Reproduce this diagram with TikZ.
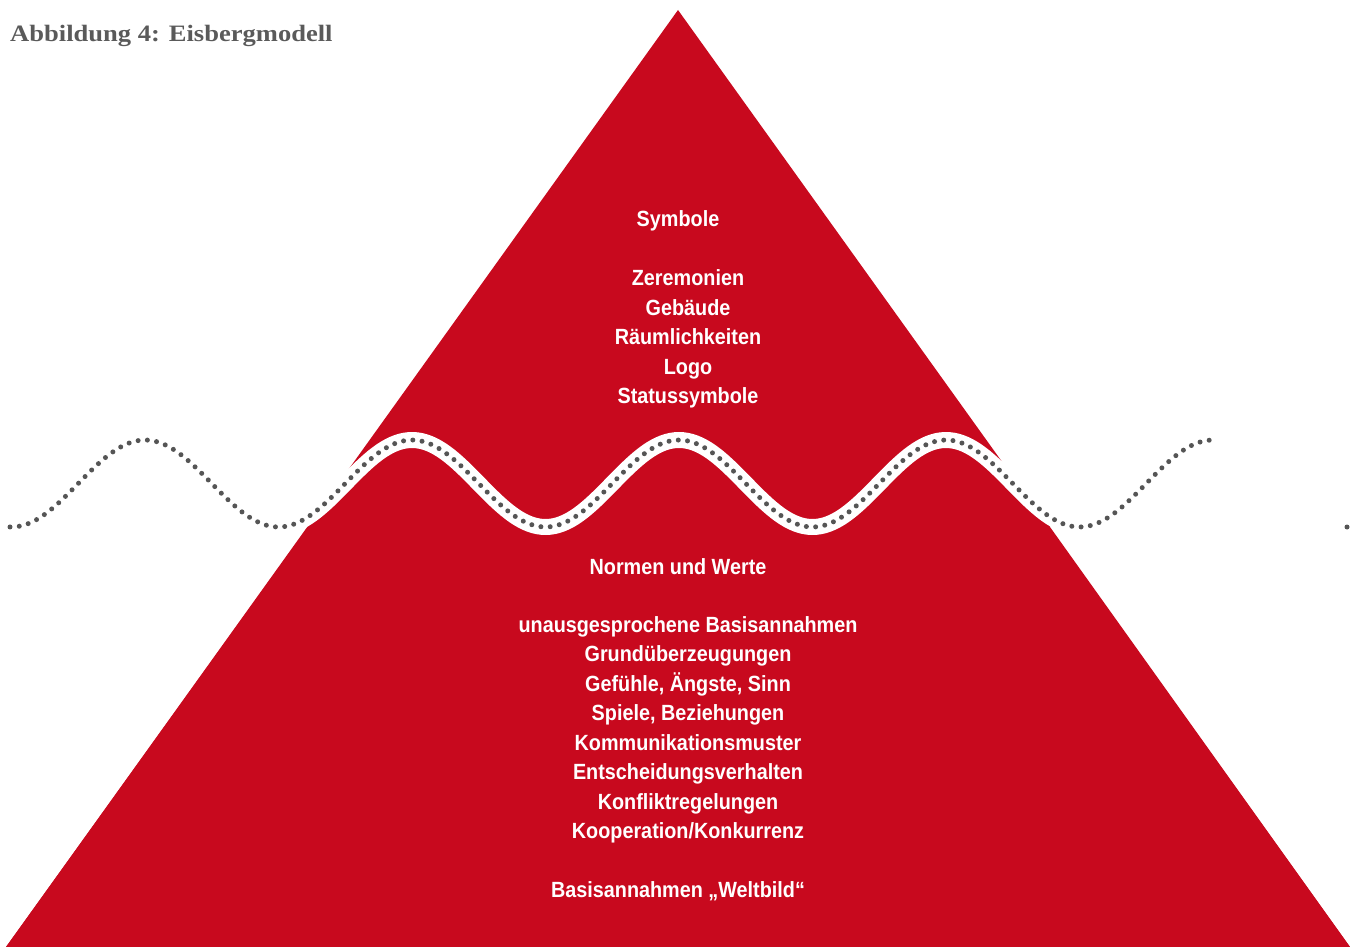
\documentclass[tikz,border=0pt]{standalone}
\usepackage{fontspec}
\newfontfamily\labelfont[FakeStretch=0.9]{Liberation Sans}
\newfontfamily\titlefont[FakeStretch=1.13]{Liberation Serif}
\definecolor{icered}{RGB}{200,9,30}
\definecolor{dotgray}{RGB}{85,85,85}
\definecolor{titlegray}{RGB}{90,90,90}
\def\wavesamples{300}

\begin{document}
\begin{tikzpicture}[x=1pt,y=-1pt,
  declare function={wave(\t)=483.5-43.5*cos((\t-145)*1.348315);},
  every text node part/.style={align=center},
  lbl/.style={text=white,inner sep=0pt,font=\labelfont\bfseries\fontsize{22}{29.5}\selectfont}]
  \useasboundingbox (0,0) rectangle (1350,947);

  \fill[icered] (678,10) -- (6,947) -- (1350,947) -- cycle;
  \fill[icered] (6,947) -- (308,527) -- plot[domain=308:1051,samples=150] (\x,{wave(\x)}) -- (1050,527) -- (1350,947) -- cycle;
  \draw[white,line width=16] plot[domain=10:1215,samples=\wavesamples] (\x,{wave(\x)});
  \draw[dotgray,line width=5,line cap=round,dash pattern=on 0pt off 9.3pt] plot[domain=10:1215,samples=\wavesamples] (\x,{wave(\x)});
  \coordinate (lone) at (1347,527);
  \fill[dotgray] (lone) circle (2.5);

  \node[text=titlegray,font=\titlefont\bfseries\fontsize{23.5}{28}\selectfont,anchor=base west,inner sep=0pt] (titel) at (10,42) {Abbildung 4: Eisbergmodell};

  \node[lbl] (symbole) at (678,221) {Symbole};
  \node[lbl] (sichtbar) at (688,339) {Zeremonien\\Gebäude\\Räumlichkeiten\\Logo\\Statussymbole};
  \node[lbl] (normen) at (678,567) {Normen und Werte};
  \node[lbl] (unsichtbar) at (688,730) {unausgesprochene Basisannahmen\\Grundüberzeugungen\\Gefühle, Ängste, Sinn\\Spiele, Beziehungen\\Kommunikationsmuster\\Entscheidungsverhalten\\Konfliktregelungen\\Kooperation/Konkurrenz};
  \node[lbl] (weltbild) at (678,891) {Basisannahmen „Weltbild“};
\end{tikzpicture}
\end{document}
